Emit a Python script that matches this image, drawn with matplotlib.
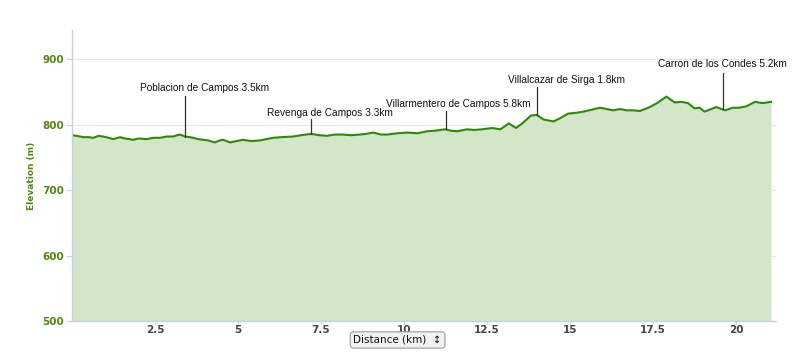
import numpy as np
import matplotlib.pyplot as plt

# elevation profile (km, m)
distance_km = [0.0, 0.14, 0.35, 0.5, 0.64, 0.8, 0.94, 1.1, 1.24, 1.45, 1.6, 1.84,
               2.0, 2.25, 2.45, 2.65, 2.85, 3.04, 3.25, 3.4, 3.55, 3.65, 3.8,
               3.95, 4.1, 4.3, 4.45, 4.55, 4.76, 4.95, 5.15, 5.4, 5.66, 5.85, 6.06,
               6.3, 6.66, 6.9, 7.2, 7.45, 7.68, 7.9, 8.16, 8.4, 8.67, 8.85, 9.07,
               9.3, 9.49, 9.8, 10.1, 10.4, 10.7, 10.95, 11.23, 11.4, 11.6, 11.9,
               12.1, 12.35, 12.65, 12.9, 13.16, 13.37, 13.56, 13.82, 14.0, 14.2,
               14.5, 14.7, 14.94, 15.15, 15.4, 15.65, 15.9, 16.1, 16.3, 16.5, 16.7,
               16.9, 17.1, 17.4, 17.65, 17.9, 18.15, 18.35, 18.55, 18.75, 18.9,
               19.05, 19.2, 19.4, 19.67, 19.9, 20.1, 20.3, 20.57, 20.8, 21.05]
elevation_m = [784, 783, 781, 781, 780, 783, 782, 780, 778, 781, 779, 777,
               779, 778, 780, 780, 782, 782, 785, 782, 781, 780, 778,
               777, 776, 773, 776, 777, 773, 775, 777, 775, 776, 778, 780,
               781, 782, 784, 786, 784, 783, 785, 785, 784, 785, 786, 788,
               785, 785, 787, 788, 787, 790, 791, 793, 791, 790, 793,
               792, 793, 795, 793, 802, 795, 802, 814, 815, 808,
               805, 810, 817, 818, 820, 823, 826, 824, 822, 824, 822,
               822, 821, 827, 834, 843, 834, 835, 833, 825, 826,
               820, 823, 827, 822, 826, 826, 828, 835, 833, 835]

# waypoints
waypoint_names = ["Poblacion de Campos 3.5km", "Revenga de Campos 3.3km",
                  "Villarmentero de Campos 5.8km", "Villalcazar de Sirga 1.8km",
                  "Carron de los Condes 5.2km"]
waypoint_km = [3.4, 7.2, 11.25, 14.0, 19.6]

# label placement (text centre x, text centre y, top of leader line)
label_layout = [(3.98, 856, 844), (7.77, 818, 808), (11.63, 832, 821),
                (14.88, 869, 858), (19.6, 893, 879)]

y_ticks = [500, 600, 700, 800, 900]
x_ticks = [2.5, 5, 7.5, 10, 12.5, 15, 17.5, 20]
x_tick_labels = ["2.5", "5", "7.5", "10", "12.5", "15", "17.5", "20"]

line_green = "#2d8a05"
fill_green = "#d3e6ca"
label_green = "#4f8a10"
axis_col = "#c3d1e3"

fig = plt.figure(figsize=(8, 3.64), dpi=100)
ax = fig.add_axes([0.09, 0.118, 0.88, 0.80])

ax.fill_between(distance_km, 500, elevation_m, color=fill_green, lw=0)
ax.plot(distance_km, elevation_m, color=line_green, lw=1.5)

for name, km, (tx, ty, top) in zip(waypoint_names, waypoint_km, label_layout):
    y0 = np.interp(km, distance_km, elevation_m)
    ax.plot([km, km], [y0, top], color="#333333", lw=0.9)
    ax.text(tx, ty, name, ha="center", va="center", fontsize=7.3,
            family="Liberation Sans", color="#111111")

ax.set_xlim(0, 21.2)
ax.set_ylim(500, 945)
ax.set_yticks(y_ticks)
ax.set_xticks(x_ticks)
ax.set_xticklabels(x_tick_labels)
ax.grid(axis="y", color="#e6e6e6", lw=0.8)
ax.set_axisbelow(True)

for side in ["top", "right"]:
    ax.spines[side].set_visible(False)
for side in ["left", "bottom"]:
    ax.spines[side].set_color(axis_col)
    ax.spines[side].set_linewidth(1.0)

ax.tick_params(axis="y", colors=axis_col, labelcolor=label_green, length=4.5,
               pad=1, labelsize=7.5)
ax.tick_params(axis="x", colors=axis_col, labelcolor="#444444", length=2,
               pad=1, labelsize=7.5)
for lbl in ax.get_yticklabels():
    lbl.set_fontweight("bold")
for lbl in ax.get_xticklabels():
    lbl.set_fontweight("bold")

ax.set_ylabel("Elevation (m)", color=label_green, fontsize=6.5,
              fontweight="bold", labelpad=5)

fig.text(0.497, 0.066, "Distance (km)  \u2195", ha="center", va="center",
         fontsize=7.5, color="#111111",
         bbox=dict(boxstyle="round,pad=0.3", fc="#f2f2f2", ec="#9a9a9a", lw=0.8))

plt.savefig("out.png")
